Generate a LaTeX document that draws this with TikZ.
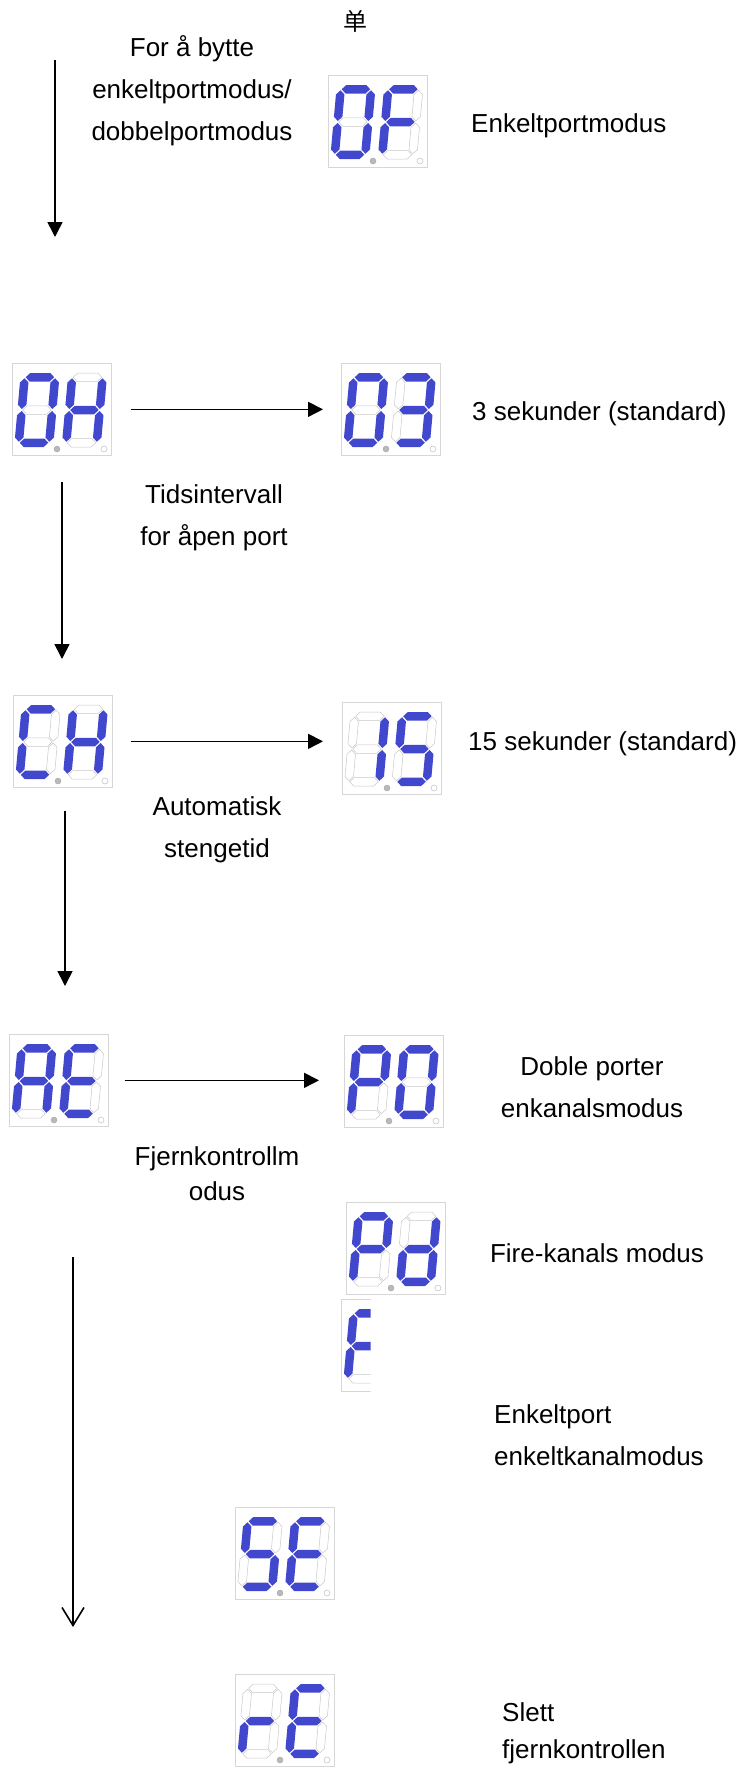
\documentclass[tikz,border=0pt]{standalone}
\usepackage{fontspec}
\setmainfont{Liberation Sans}
\newfontfamily\cjkfont{Noto Sans CJK SC}
\usetikzlibrary{arrows.meta}
\definecolor{segon}{RGB}{66,72,206}
\definecolor{segoff}{RGB}{200,200,200}
\definecolor{boxline}{RGB}{215,215,215}
\definecolor{dpgray}{RGB}{185,185,185}
\tikzset{
 s1/.style={fill=segon},
 s0/.style={draw=segoff, line width=0.5pt},
 dispbox/.style={draw=boxline, line width=0.7pt, minimum width=99pt, minimum height=92pt, inner sep=0pt, anchor=north west},
 lab/.style={font=\fontsize{26}{42}\selectfont, align=center, inner sep=0pt},
 labl/.style={font=\fontsize{26}{42}\selectfont, align=left, inner sep=0pt, anchor=west},
 arr/.style={-{Triangle[length=15pt,width=15pt]}, line width=1.6pt},
 arro/.style={-{Straight Barb[length=18pt,width=22pt,line width=1.6pt]}, line width=1.6pt},
}
% horizontal hexagon: style, x1, x2, yc
\newcommand\hseg[4]{\path[#1] (#2,#4) -- (#2+4.25,#4-4.25) -- (#3-4.25,#4-4.25) -- (#3,#4) -- (#3-4.25,#4+4.25) -- (#2+4.25,#4+4.25) -- cycle;}
% vertical hexagon: style, xc, y1, y2
\newcommand\vseg[4]{\path[#1] (#2,#3) -- (#2+4.25,#3+4.25) -- (#2+4.25,#4-4.25) -- (#2,#4) -- (#2-4.25,#4-4.25) -- (#2-4.25,#3+4.25) -- cycle;}
\def\sdigitaux#1#2#3#4#5#6#7#8\relax{%
 \begin{scope}[xshift=#1pt]
 \hseg{s#2}{5.25}{33.75}{14.25}
 \vseg{s#3}{34.75}{15.25}{46}
 \vseg{s#4}{34.75}{48}{78.75}
 \hseg{s#5}{5.25}{33.75}{79.75}
 \vseg{s#6}{4.25}{48}{78.75}
 \vseg{s#7}{4.25}{15.25}{46}
 \hseg{s#8}{5.25}{33.75}{47}
 \end{scope}}
\newcommand\sdigit[2]{\sdigitaux{#1}#2\relax}
\newcommand\segdisp[5]{%
 \node[dispbox] (#1) at (#2,#3) {};
 \begin{scope}[shift={(#1.north west)}, xshift=4.2pt, xslant=0.09]
 \sdigit{5.5}{#4}\sdigit{53}{#5}
 \end{scope}
 \begin{scope}[shift={(#1.north west)}]
 \filldraw[fill=dpgray, draw=gray!70, line width=0.4pt] (45,86) circle (3pt);
 \draw[draw=segoff, line width=0.6pt] (92,86) circle (3pt);
 \end{scope}}
\begin{document}
\begin{tikzpicture}[x=1pt,y=-1pt]
\fill[white] (0,0) rectangle (745,1767);
\useasboundingbox (0,0) rectangle (745,1767);

\node[font=\cjkfont\fontsize{24}{24}\selectfont, inner sep=0pt] (dan) at (355,21) {单};

\segdisp{OF}{328}{75}{1111110}{1000111}
\segdisp{OH}{12}{363}{1111110}{0110111}
\segdisp{OT}{341}{363}{1111110}{1111001}
\segdisp{CH}{13}{695}{1001110}{0110111}
\segdisp{FT}{342}{702}{0110000}{1011011}
\segdisp{AE}{9}{1034}{1110111}{1001111}
\segdisp{PO}{344}{1035}{1100111}{1111110}
\segdisp{PD}{346}{1202}{1100111}{0111101}
\begin{scope}
 \clip (339,1297) rectangle (370.5,1394);
 \segdisp{FP}{341}{1299}{1000111}{0000000}
\end{scope}
\segdisp{SE}{235}{1507}{1011011}{1001111}
\segdisp{RE}{235}{1674}{0000101}{1001111}

\node[lab] (t1) at (192,91) {For å bytte\\enkeltportmodus/\\dobbelportmodus};
\node[labl] (t2) at (471,126) {Enkeltportmodus};
\node[labl] (t3) at (472,414) {3 sekunder (standard)};
\node[lab] (t4) at (214,518) {Tidsintervall\\for åpen port};
\node[labl] (t5) at (468,744) {15 sekunder (standard)};
\node[lab] (t6) at (217,830) {Automatisk\\stengetid};
\node[lab] (t7) at (592,1087) {Doble porter\\enkanalsmodus};
\node[lab, font=\fontsize{26}{35}\selectfont] (t8) at (217,1174) {Fjernkontrollm\\odus};
\node[lab] (t9) at (597,1253) {Fire-kanals modus};
\node[labl] (t10) at (494,1435) {Enkeltport\\enkeltkanalmodus};
\node[labl, font=\fontsize{26}{37}\selectfont] (t11) at (502,1733) {Slett\\fjernkontrollen};

\coordinate (v1s) at (55,60);   \coordinate (v1e) at (55,237);
\coordinate (v2s) at (62,482);  \coordinate (v2e) at (62,659);
\coordinate (v3s) at (65,811);  \coordinate (v3e) at (65,986);
\coordinate (v4s) at (73,1257); \coordinate (v4e) at (73,1627);
\draw[arr] (v1s) -- (v1e);
\draw[arr] (v2s) -- (v2e);
\draw[arr] (v3s) -- (v3e);
\draw[arro] (v4s) -- (v4e);

\draw[arr, shorten <=19pt, shorten >=18pt] (OH.east) -- (OH.east -| OT.west);
\draw[arr, shorten <=18pt, shorten >=19pt] (CH.east) -- (CH.east -| FT.west);
\draw[arr, shorten <=16pt, shorten >=25pt] (AE.east) -- (AE.east -| PO.west);
\end{tikzpicture}
\end{document}
